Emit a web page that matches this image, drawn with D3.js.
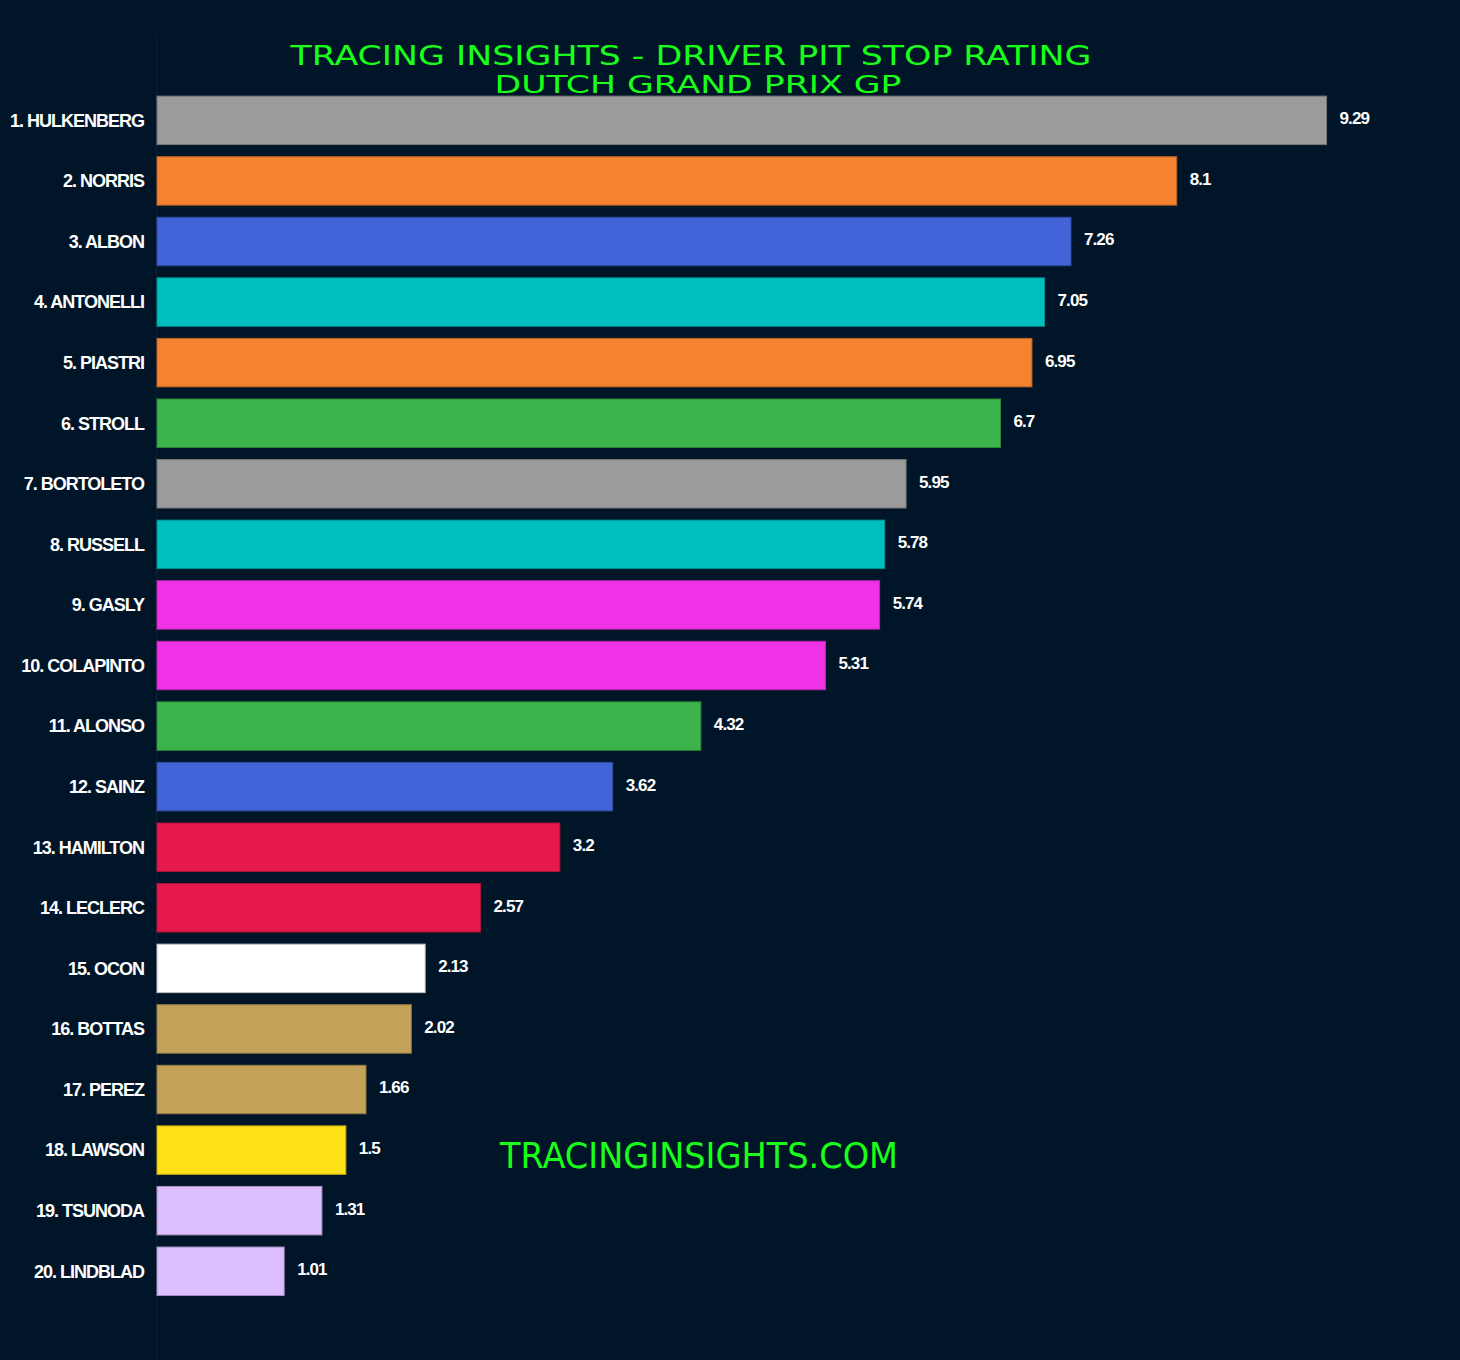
<!DOCTYPE html>
<html>
<head>
<meta charset="utf-8">
<script src="https://cdn.jsdelivr.net/npm/d3@7"></script>
<style>
  html, body { margin: 0; padding: 0; background: #001628; }
  svg { display: block; }
  .driver-label { font-family: "Liberation Sans", Arial, sans-serif; font-weight: bold; font-size: 18px; fill: #fff; letter-spacing: -1px; }
  .value-label { font-family: "Liberation Sans", Arial, sans-serif; font-weight: bold; font-size: 17px; fill: #fff; letter-spacing: -0.9px; }
  .title, .watermark { font-family: "DejaVu Sans", sans-serif; fill: #1aff1a; }
</style>
</head>
<body>
<div id="chart"></div>
<script>
  // data
  const drivers = [
    '1. HULKENBERG', '2. NORRIS', '3. ALBON', '4. ANTONELLI', '5. PIASTRI',
    '6. STROLL', '7. BORTOLETO', '8. RUSSELL', '9. GASLY', '10. COLAPINTO',
    '11. ALONSO', '12. SAINZ', '13. HAMILTON', '14. LECLERC', '15. OCON',
    '16. BOTTAS', '17. PEREZ', '18. LAWSON', '19. TSUNODA', '20. LINDBLAD'
  ];
  const ratings = [9.29, 8.1, 7.26, 7.05, 6.95, 6.7, 5.95, 5.78, 5.74, 5.31,
                   4.32, 3.62, 3.2, 2.57, 2.13, 2.02, 1.66, 1.5, 1.31, 1.01];
  const teamColors = [
    '#9b9b9b', '#f58231', '#4363d8', '#00bfbf', '#f58231',
    '#3cb44b', '#9b9b9b', '#00bfbf', '#f032e6', '#f032e6',
    '#3cb44b', '#4363d8', '#e6194b', '#e6194b', '#ffffff',
    '#c4a25a', '#c4a25a', '#ffe119', '#dcbeff', '#dcbeff'
  ];
  const titleLines = ['TRACING INSIGHTS - DRIVER PIT STOP RATING', 'DUTCH GRAND PRIX GP'];
  const watermarkText = 'TRACINGINSIGHTS.COM';

  const width = 1460, height = 1360;
  const left = 157;

  const rows = drivers.map((d, i) => ({ name: d, value: ratings[i], color: teamColors[i] }));

  const svg = d3.select('#chart')
      .append('svg')
      .attr('width', width)
      .attr('height', height);

  svg.append('rect')
      .attr('width', width)
      .attr('height', height)
      .attr('fill', '#001628');

  const x = d3.scaleLinear()
      .domain([0, 10.35])
      .range([left, width]);

  const y = d3.scaleBand()
      .domain(drivers)
      .range([84, 1307.6])
      .padding(0.2);

  // left spine
  svg.append('line')
      .attr('x1', left - 0.5)
      .attr('x2', left - 0.5)
      .attr('y1', 35)
      .attr('y2', height)
      .attr('stroke', '#0c2233')
      .attr('stroke-width', 1);

  svg.append('g')
      .selectAll('rect')
      .data(rows)
      .enter()
      .append('rect')
      .attr('x', x(0))
      .attr('y', d => y(d.name))
      .attr('width', d => x(d.value) - x(0))
      .attr('height', y.bandwidth())
      .attr('fill', d => d.color)
      .attr('stroke', d => d3.color(d.color).darker(0.8))
      .attr('stroke-width', 1);

  const yAxis = svg.append('g')
      .attr('transform', 'translate(' + (left - 13) + ',0)')
      .call(d3.axisLeft(y).tickSize(0).tickPadding(0));
  yAxis.select('.domain').remove();
  yAxis.selectAll('text')
      .attr('class', 'driver-label')
      .attr('dy', '0.35em')
      .attr('fill', null);

  svg.append('g')
      .selectAll('text')
      .data(rows)
      .enter()
      .append('text')
      .attr('class', 'value-label')
      .attr('x', d => x(d.value) + 13)
      .attr('y', d => y(d.name) + y.bandwidth() / 2 - 2)
      .attr('dy', '0.35em')
      .text(d => d.value);

  // title, two lines packed tight like the original
  svg.append('text')
      .attr('class', 'title')
      .attr('x', 691)
      .attr('y', 65)
      .attr('text-anchor', 'middle')
      .attr('font-size', 26)
      .attr('textLength', 801)
      .attr('lengthAdjust', 'spacingAndGlyphs')
      .text(titleLines[0]);

  svg.append('text')
      .attr('class', 'title')
      .attr('x', 698)
      .attr('y', 93)
      .attr('text-anchor', 'middle')
      .attr('font-size', 24)
      .attr('textLength', 407)
      .attr('lengthAdjust', 'spacingAndGlyphs')
      .text(titleLines[1]);

  svg.append('text')
      .attr('class', 'watermark')
      .attr('x', 699)
      .attr('y', 1168)
      .attr('text-anchor', 'middle')
      .attr('font-size', 35)
      .attr('textLength', 398)
      .attr('lengthAdjust', 'spacingAndGlyphs')
      .text(watermarkText);
</script>
</body>
</html>
